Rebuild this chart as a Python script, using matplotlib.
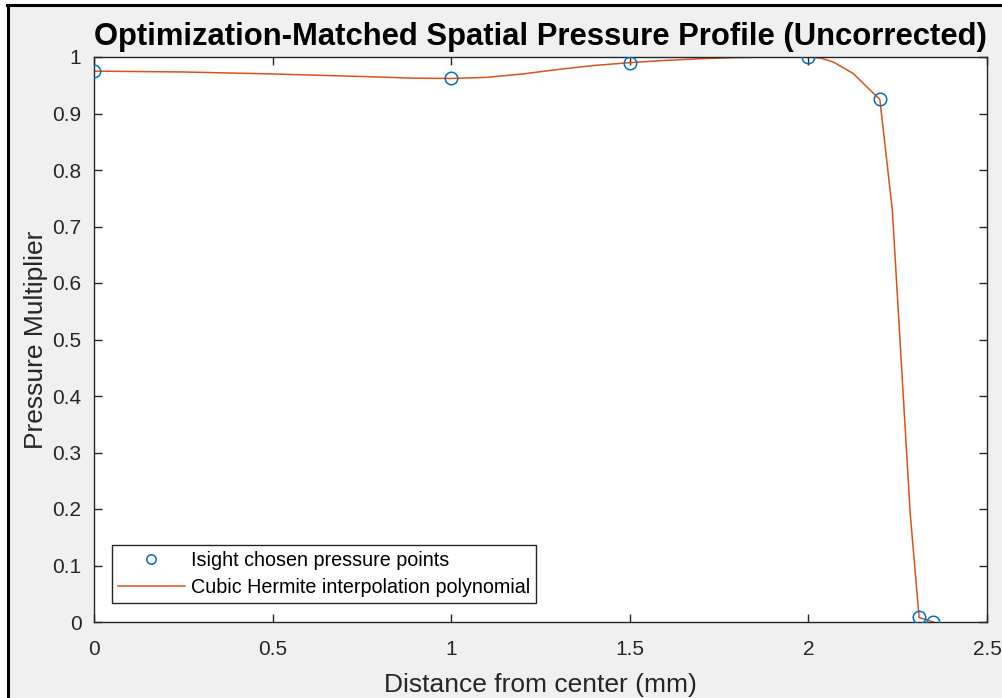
import matplotlib
matplotlib.use("Agg")
import matplotlib.pyplot as plt
from matplotlib.lines import Line2D

plt.rcParams['font.family'] = ['Liberation Sans', 'DejaVu Sans']

# Data points chosen by Isight
pts_x = [0.0, 1.0, 1.5, 2.0, 2.2, 2.31, 2.35]
pts_y = [0.975, 0.962, 0.990, 1.000, 0.925, 0.008, 0.000]

# Vertices of the plotted cubic Hermite (pchip) curve
curve_x = [0.0, 0.25, 0.5, 0.75, 0.9, 1.0, 1.1, 1.2, 1.3, 1.4, 1.5, 1.6, 1.7,
           1.8, 1.9, 2.0, 2.035, 2.07, 2.125, 2.18, 2.2, 2.235, 2.285, 2.31, 2.35]
curve_y = [0.975, 0.9735, 0.970, 0.9655, 0.9625, 0.962, 0.964, 0.970, 0.978,
           0.985, 0.990, 0.994, 0.997, 0.999, 1.0, 1.0, 0.998, 0.991, 0.971,
           0.937, 0.925, 0.729, 0.192, 0.008, 0.0]

xticks = [0, 0.5, 1, 1.5, 2, 2.5]
xticklabels = ['0', '0.5', '1', '1.5', '2', '2.5']
yticks = [0, 0.1, 0.2, 0.3, 0.4, 0.5, 0.6, 0.7, 0.8, 0.9, 1.0]
yticklabels = ['0', '0.1', '0.2', '0.3', '0.4', '0.5', '0.6', '0.7', '0.8', '0.9', '1']

W, H = 1003, 698
fig = plt.figure(figsize=(W / 100, H / 100), dpi=100, facecolor='#F0F0F0')

# screenshot frame: white margin + black line on left and top
fig.patches.append(plt.Rectangle((0, 0), 7 / W, 1, transform=fig.transFigure,
                                 facecolor='white', edgecolor='none', zorder=0))
fig.patches.append(plt.Rectangle((0, 1 - 4 / H), 1, 4 / H, transform=fig.transFigure,
                                 facecolor='white', edgecolor='none', zorder=0))
fig.add_artist(Line2D([8 / W, 8 / W], [0, 1 - 5 / H], transform=fig.transFigure,
                      color='black', lw=2.2))
fig.add_artist(Line2D([7 / W, 1], [1 - 5 / H, 1 - 5 / H], transform=fig.transFigure,
                      color='black', lw=2.2))

ax_l, ax_r = 94 / W, 987 / W
ax_b, ax_t = (H - 622) / H, (H - 57) / H
ax = fig.add_axes([ax_l, ax_b, ax_r - ax_l, ax_t - ax_b])
ax.set_facecolor('white')

ax.plot(pts_x, pts_y, linestyle='none', marker='o', markersize=9,
        markerfacecolor='none', markeredgecolor='#0072BD', markeredgewidth=1.1,
        label='Isight chosen pressure points', zorder=3)
ax.plot(curve_x, curve_y, color='#D95319', lw=1.1,
        label='Cubic Hermite interpolation polynomial', zorder=2)

ax.set_xlim(0, 2.5)
ax.set_ylim(0, 1)
ax.set_xticks(xticks)
ax.set_xticklabels(xticklabels)
ax.set_yticks(yticks)
ax.set_yticklabels(yticklabels)

axcol = '#262626'
for s in ax.spines.values():
    s.set_color(axcol)
    s.set_linewidth(1.0)
ax.tick_params(direction='in', length=6, width=1.0, color=axcol,
               labelcolor=axcol, labelsize=15, top=True, right=True)
ax.tick_params(axis='x', pad=13)
ax.tick_params(axis='y', pad=9)

ax.set_xlabel('Distance from center (mm)', fontsize=19, color=axcol, labelpad=10)
ax.set_ylabel('Pressure Multiplier', fontsize=19, color=axcol, labelpad=3)
ax.set_title('Optimization-Matched Spatial Pressure Profile (Uncorrected)',
             fontsize=22.3, fontweight='bold', color='black', pad=9)

leg = ax.legend(loc='lower left', bbox_to_anchor=((112 - 94) / 893, (622 - 603) / 565),
                borderaxespad=0, fontsize=14.2, frameon=True, fancybox=False,
                edgecolor=axcol, framealpha=1, handlelength=3.4, numpoints=1,
                markerscale=0.75, borderpad=0.3, labelspacing=0.4,
                handletextpad=0.3)
leg.get_frame().set_linewidth(1.0)

fig.savefig('out.png', dpi=100, facecolor=fig.get_facecolor())
